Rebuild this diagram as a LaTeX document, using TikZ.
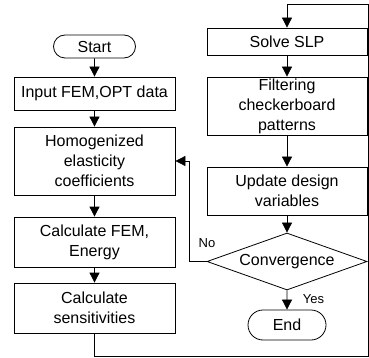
\documentclass[tikz,border=0pt]{standalone}
\usepackage{fontspec}
\setmainfont{Liberation Sans}
\usetikzlibrary{shapes.geometric,shapes.misc,arrows.meta}
\tikzset{
  base/.style={draw=black, line width=0.8pt, align=center, inner sep=0pt,
    font=\fontsize{16}{20}\selectfont},
  procbox/.style={base, rectangle},
  termbox/.style={base, rounded rectangle},
  decbox/.style={base, diamond, aspect=2.8},
  flow/.style={line width=0.8pt, -{Triangle[width=10pt,length=10pt]}},
  line/.style={line width=0.8pt},
  lbl/.style={font=\fontsize{13}{15}\selectfont, inner sep=0pt}
}
\begin{document}
\begin{tikzpicture}[x=1pt,y=-1pt]
\useasboundingbox (0,0) rectangle (369,358);
% left column
\node[termbox, minimum width=82pt, minimum height=23pt] (start) at (94.5,46.5) {Start};
\node[procbox, minimum width=161pt, minimum height=33pt] (input) at (94.5,93.5) {Input FEM,OPT data};
\node[procbox, minimum width=161pt, minimum height=68pt] (homog) at (94.5,161) {Homogenized\\elasticity\\coefficients};
\node[procbox, minimum width=161pt, minimum height=50pt] (fem) at (94.5,242) {Calculate FEM,\\Energy};
\node[procbox, minimum width=161pt, minimum height=50pt] (sens) at (94.5,308) {Calculate\\sensitivities};
% right column
\node[procbox, minimum width=160pt, minimum height=27pt] (solve) at (287,41.5) {Solve SLP};
\node[procbox, minimum width=160pt, minimum height=58pt] (filter) at (287,106) {Filtering\\checkerboard\\patterns};
\node[procbox, minimum width=160pt, minimum height=48pt] (update) at (287,191) {Update design\\variables};
\node[decbox, minimum width=160pt, minimum height=57pt] (conv) at (287,261.5) {Convergence};
\node[termbox, minimum width=78pt, minimum height=30pt] (end) at (287,325) {End};
% helper coordinates
\coordinate (nocorner) at (189,261.5);
\coordinate (bottomright) at (368.6,356);
\coordinate (topright) at (368.6,4);
% connectors
\draw[flow] (start) -- (input);
\draw[flow] (input) -- (homog);
\draw[flow] (homog) -- (fem);
\draw[flow] (fem) -- (sens);
\draw[flow] (solve) -- (filter);
\draw[flow] (filter) -- (update);
\draw[flow] (update) -- (conv);
\draw[flow] (conv) -- (end);
\draw[flow] (conv.west) -- (nocorner) |- (homog.east);
\draw[flow] (sens.south) |- (bottomright) -- (topright) -| (solve.north);
% labels
\node[lbl] (nolbl) at (207,243) {No};
\node[lbl] (yeslbl) at (313.5,299) {Yes};
\end{tikzpicture}
\end{document}
